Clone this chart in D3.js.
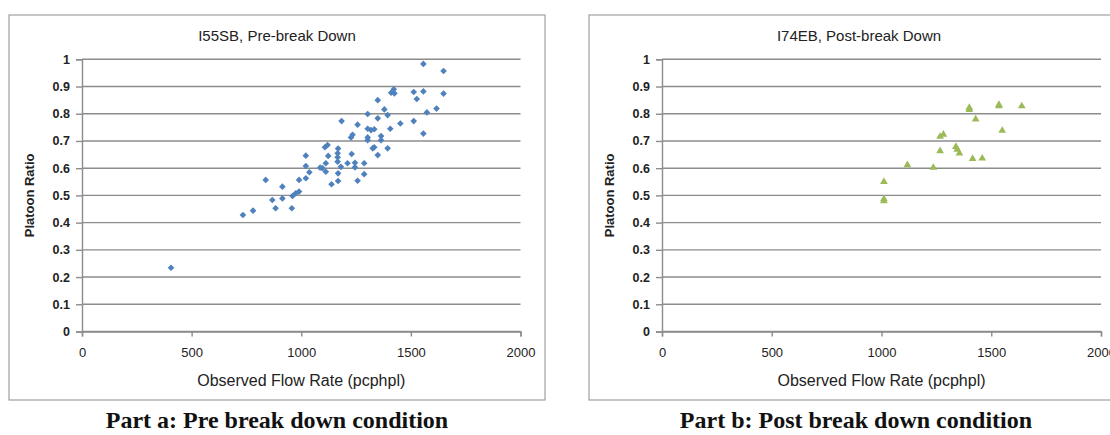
<!DOCTYPE html>
<html>
<head>
<meta charset="utf-8">
<script src="https://cdn.jsdelivr.net/npm/d3@7"></script>
<style>
  body { margin: 0; background: #fff; }
  svg { display: block; }
</style>
</head>
<body>
<svg width="1110" height="435"></svg>
<script>
// dati (flow rate, platoon ratio)
var pre_flow = [406, 734, 780, 838, 868, 883, 914, 914, 957, 960, 975, 990, 990, 1021, 1021, 1021,
  1037, 1086, 1097, 1112, 1112, 1123, 1108, 1120, 1138, 1166, 1166, 1166, 1168, 1168, 1168, 1181,
  1184, 1211, 1230, 1227, 1234, 1245, 1245, 1257, 1257, 1287, 1287, 1303, 1303, 1303, 1303, 1318,
  1333, 1326, 1333, 1349, 1349, 1349, 1364, 1364, 1379, 1394, 1394, 1406, 1410, 1422, 1425, 1452,
  1513, 1513, 1527, 1557, 1557, 1557, 1573, 1617, 1649, 1649];
var pre_ratio = [0.234, 0.428, 0.444, 0.557, 0.483, 0.453, 0.489, 0.532, 0.453, 0.498, 0.508, 0.514, 0.557, 0.563, 0.608, 0.646,
  0.585, 0.602, 0.600, 0.618, 0.587, 0.645, 0.677, 0.685, 0.541, 0.655, 0.640, 0.624, 0.672, 0.581, 0.553, 0.605,
  0.773, 0.618, 0.652, 0.713, 0.723, 0.620, 0.603, 0.760, 0.554, 0.618, 0.578, 0.799, 0.745, 0.713, 0.703, 0.740,
  0.743, 0.673, 0.677, 0.850, 0.783, 0.648, 0.718, 0.703, 0.816, 0.795, 0.673, 0.745, 0.877, 0.890, 0.875, 0.764,
  0.880, 0.773, 0.854, 0.983, 0.882, 0.727, 0.805, 0.819, 0.957, 0.874];

var post_flow = [1011, 1011, 1011, 1118, 1236, 1267, 1267, 1282, 1339, 1345, 1355, 1400, 1400, 1415, 1429, 1459,
  1535, 1535, 1550, 1639];
var post_ratio = [0.550, 0.487, 0.479, 0.612, 0.602, 0.716, 0.663, 0.724, 0.679, 0.669, 0.655, 0.822, 0.815, 0.635, 0.780, 0.636,
  0.833, 0.828, 0.738, 0.828];

var x_ticks = [0, 500, 1000, 1500, 2000];
var y_ticks = [0, 0.1, 0.2, 0.3, 0.4, 0.5, 0.6, 0.7, 0.8, 0.9, 1];
var titoli = ["I55SB, Pre-break Down", "I74EB, Post-break Down"];
var didascalie = ["Part a: Pre break down condition", "Part b: Post break down condition"];
var x_label = "Observed Flow Rate (pcphpl)";
var y_label = "Platoon Ratio";

var sans = "'Liberation Sans', Arial, sans-serif";
var serif = "'Liberation Serif', 'Times New Roman', serif";

var svg = d3.select("svg");

// rombo "quadrato" come nei grafici excel
var rombo = {
  draw: function(ctx, size) {
    var r = Math.sqrt(size) / 2;
    ctx.moveTo(0, -r); ctx.lineTo(r, 0); ctx.lineTo(0, r); ctx.lineTo(-r, 0); ctx.closePath();
  }
};

function disegna_grafico(cfg) {
  var g = svg.append("g");

  g.append("rect")
    .attr("x", cfg.box[0]).attr("y", cfg.box[1])
    .attr("width", cfg.box[2]).attr("height", cfg.box[3])
    .attr("fill", "#fff").attr("stroke", "#a0a0a0").attr("stroke-width", 1.2);

  var x = d3.scaleLinear().domain([0, 2000]).range([cfg.x0, cfg.x1]);
  var y = d3.scaleLinear().domain([0, 1]).range([331.5, 59.3]);

  // griglia
  g.append("g").selectAll("line").data(y_ticks).enter().append("line")
    .attr("x1", cfg.x0).attr("x2", cfg.x1)
    .attr("y1", function(d) { return y(d); }).attr("y2", function(d) { return y(d); })
    .attr("stroke", "#8c8c8c").attr("stroke-width", 1.4);

  var ax_y = g.append("g").attr("transform", "translate(" + cfg.x0 + ",0)")
    .call(d3.axisLeft(y).tickValues(y_ticks).tickSize(6).tickPadding(6)
      .tickFormat(function(d) { return String(+d.toFixed(1)); }));
  ax_y.select(".domain").attr("stroke", "#8c8c8c").attr("stroke-width", 1.4);
  ax_y.selectAll(".tick line").attr("stroke", "#8c8c8c").attr("stroke-width", 1.4);
  ax_y.selectAll("text").style("font-family", sans).style("font-size", "12.5px")
    .style("font-weight", "bold").attr("fill", "#222");

  var ax_x = g.append("g").attr("transform", "translate(0," + y(0) + ")")
    .call(d3.axisBottom(x).tickValues(x_ticks).tickSize(5).tickPadding(11).tickFormat(d3.format("d")));
  ax_x.select(".domain").attr("stroke", "#8c8c8c").attr("stroke-width", 1.4);
  ax_x.selectAll(".tick line").attr("stroke", "#8c8c8c").attr("stroke-width", 1.4);
  ax_x.selectAll("text").style("font-family", sans).style("font-size", "13px").attr("fill", "#222");

  // titolo centrato sul riquadro, etichetta x centrata sull'area del grafico
  var bx = cfg.box[0] + cfg.box[2] / 2;
  var cx = (cfg.x0 + cfg.x1) / 2;
  g.append("text").attr("x", bx).attr("y", 41).attr("text-anchor", "middle")
    .style("font-family", sans).style("font-size", "15px").attr("fill", "#222").text(cfg.titolo);

  g.append("text").attr("x", cx).attr("y", 386).attr("text-anchor", "middle")
    .style("font-family", sans).style("font-size", "16px").attr("fill", "#222")
    .text(x_label);

  g.append("text")
    .attr("transform", "translate(" + (cfg.x0 - 48) + "," + y(0.5) + ") rotate(-90)")
    .attr("text-anchor", "middle")
    .style("font-family", sans).style("font-size", "13px").style("font-weight", "bold")
    .attr("fill", "#222").text(y_label);

  // punti
  var simbolo = d3.symbol().type(cfg.tipo).size(cfg.size);
  g.append("g").selectAll("path").data(cfg.flow).enter().append("path")
    .attr("transform", function(d, i) { return "translate(" + x(d) + "," + y(cfg.ratio[i]) + ")"; })
    .attr("d", simbolo)
    .attr("fill", cfg.colore);

  svg.append("text").attr("x", cfg.cap_x).attr("y", 428).attr("text-anchor", "middle")
    .style("font-family", serif).style("font-weight", "bold").style("font-size", "24px")
    .attr("fill", "#111")
    .text(cfg.didascalia);
}

disegna_grafico({
  box: [9, 15, 536, 385], x0: 82, x1: 520.5,
  flow: pre_flow, ratio: pre_ratio, tipo: rombo, size: 44, colore: "#4f81bd",
  titolo: titoli[0], didascalia: didascalie[0], cap_x: 277
});

disegna_grafico({
  box: [589, 15, 540, 385], x0: 662, x1: 1101,
  flow: post_flow, ratio: post_ratio, tipo: d3.symbolTriangle, size: 26, colore: "#9bbb59",
  titolo: titoli[1], didascalia: didascalie[1], cap_x: 856
});
</script>
</body>
</html>
